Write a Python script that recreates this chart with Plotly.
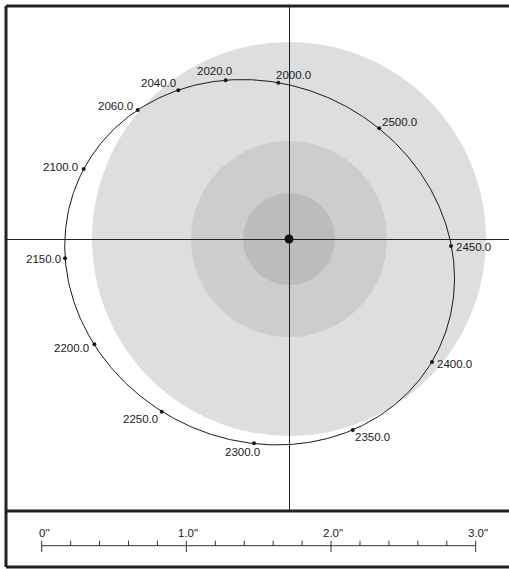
import numpy as np
import plotly.graph_objects as go

# ---- data (arcseconds) ----
EPOCHS = ["2000.0", "2020.0", "2040.0", "2060.0", "2100.0", "2150.0", "2200.0",
          "2250.0", "2300.0", "2350.0", "2400.0", "2450.0", "2500.0"]
X_ARCSEC = [-0.074, -0.438, -0.766, -1.046, -1.420, -1.549, -1.346,
            -0.880, -0.242, 0.441, 0.989, 1.120, 0.624]
Y_ARCSEC = [1.081, 1.098, 1.028, 0.892, 0.484, -0.133, -0.728,
            -1.194, -1.413, -1.321, -0.851, -0.048, 0.766]

ZONE_RADII = [1.362, 0.678, 0.318]
ZONE_COLORS = ["#dedede", "#cdcdcd", "#bcbcbc"]

SCALE_MAJOR = [0, 1, 2, 3]
SCALE_MAJOR_LABELS = ['0"', '1.0"', '2.0"', '3.0"']
SCALE_MINOR = [0.2, 0.4, 0.6, 0.8, 1.2, 1.4, 1.6, 1.8, 2.2, 2.4, 2.6, 2.8]

# label offsets in pixels (style)
LABEL_DX = [15, -11, -20, -22, -23, -22, -23, -21, -12, 20, 22, 23, 20]
LABEL_DY = [8, 9, 7, 4, 2, -1, -4, -7, -9, -7, -2, -1, 6]

FONT = "Liberation Sans, Arial, sans-serif"
INK = "#1a1a1a"

# ---- orbit: least-squares ellipse through the epoch positions ----
x = np.array(X_ARCSEC)
y = np.array(Y_ARCSEC)
Dm = np.column_stack([x * x, x * y, y * y, x, y])
p, *_ = np.linalg.lstsq(Dm, np.ones_like(x), rcond=None)
A, B, C, D, E = p
M = np.array([[A, B / 2], [B / 2, C]])
c = -0.5 * np.linalg.solve(M, np.array([D, E]))
k = 1 + c @ M @ c
lam, vec = np.linalg.eigh(M)
t = np.linspace(0, 2 * np.pi, 500)
pts = c[:, None] + vec @ np.vstack([np.sqrt(k / lam[0]) * np.cos(t),
                                     np.sqrt(k / lam[1]) * np.sin(t)])

fig = go.Figure()

# orbit line
fig.add_trace(go.Scatter(x=pts[0], y=pts[1], mode="lines",
                         line=dict(color=INK, width=1), hoverinfo="skip"))
# epoch dots
fig.add_trace(go.Scatter(x=X_ARCSEC, y=Y_ARCSEC, mode="markers",
                         marker=dict(color=INK, size=4), text=EPOCHS))
# primary star
fig.add_trace(go.Scatter(x=[0], y=[0], mode="markers",
                         marker=dict(color="#111111", size=9)))

# gray zones
for r, col in zip(ZONE_RADII, ZONE_COLORS):
    fig.add_shape(type="circle", xref="x", yref="y", x0=-r, x1=r, y0=-r, y1=r,
                  fillcolor=col, line=dict(width=0), layer="below")

# epoch labels
for ep, xv, yv, dx, dy in zip(EPOCHS, X_ARCSEC, Y_ARCSEC, LABEL_DX, LABEL_DY):
    fig.add_annotation(x=xv, y=yv, xref="x", yref="y", text=ep, showarrow=False,
                       xshift=dx, yshift=dy, xanchor="center", yanchor="middle",
                       font=dict(family=FONT, size=11.5, color=INK))

# ---- scale bar (second axis pair) ----
BAR_Y = 21.3
MAJ_LO, MAJ_HI = 15.0, 26.3
MIN_HI = 26.3
sx, sy = [min(SCALE_MAJOR), max(SCALE_MAJOR), None], [BAR_Y, BAR_Y, None]
for v in SCALE_MAJOR:
    sx += [v, v, None]
    sy += [MAJ_LO, MAJ_HI, None]
for v in SCALE_MINOR:
    sx += [v, v, None]
    sy += [BAR_Y, MIN_HI, None]
fig.add_trace(go.Scatter(x=sx, y=sy, mode="lines", xaxis="x2", yaxis="y2",
                         line=dict(color="#333333", width=1), hoverinfo="skip"))
for v, lab in zip(SCALE_MAJOR, SCALE_MAJOR_LABELS):
    fig.add_annotation(x=v, y=34, xref="x2", yref="y2", text=lab, showarrow=False,
                       xshift=2, xanchor="center", yanchor="middle",
                       font=dict(family=FONT, size=11.5, color=INK))

# ---- layout ----
W, H = 524, 569
ML, MR, MT, MB = 6, 0, 6, 2
px_per = 144.6
split = (567 - 511) / (H - MT - MB)
cx, cy = 289, 239
axis_off = dict(showgrid=False, showticklabels=False, ticks="", showline=False,
                fixedrange=True, showspikes=False)
fig.update_layout(
    width=W, height=H, margin=dict(l=ML, r=MR, t=MT, b=MB),
    paper_bgcolor="white", plot_bgcolor="white", showlegend=False,
    dragmode=False, hovermode=False,
    xaxis=dict(domain=[0, 1], range=[(ML - cx) / px_per, (W - MR - cx) / px_per],
               zeroline=True, zerolinecolor="#222222", zerolinewidth=1, **axis_off),
    yaxis=dict(domain=[split, 1], range=[(cy - 511) / px_per, (cy - MT) / px_per],
               zeroline=True, zerolinecolor="#222222", zerolinewidth=1, **axis_off),
    xaxis2=dict(domain=[0, 1], anchor="y2",
                range=[(ML - 41.7) / 144.67, (W - MR - 41.7) / 144.67],
                zeroline=False, **axis_off),
    yaxis2=dict(domain=[0, split], anchor="x2", range=[0, 56],
                zeroline=False, **axis_off),
)

# frame
frame = dict(color="#222222", width=3)
fig.add_shape(type="line", xref="paper", yref="paper", x0=0, x1=0, y0=0, y1=1, line=frame)
for yy in (1, 0, split):
    fig.add_shape(type="line", xref="paper", yref="paper", x0=0, x1=1, y0=yy, y1=yy,
                  line=frame)

fig.write_html(
    "out.html",
    config={"displayModeBar": False, "staticPlot": True},
    post_script=(
        "var st=document.createElement('style');"
        "st.textContent='html,body{margin:0;padding:0;overflow:hidden;scrollbar-width:none;}"
        "::-webkit-scrollbar{display:none;width:0;height:0;}';"
        "document.head.appendChild(st);"
    ),
)
